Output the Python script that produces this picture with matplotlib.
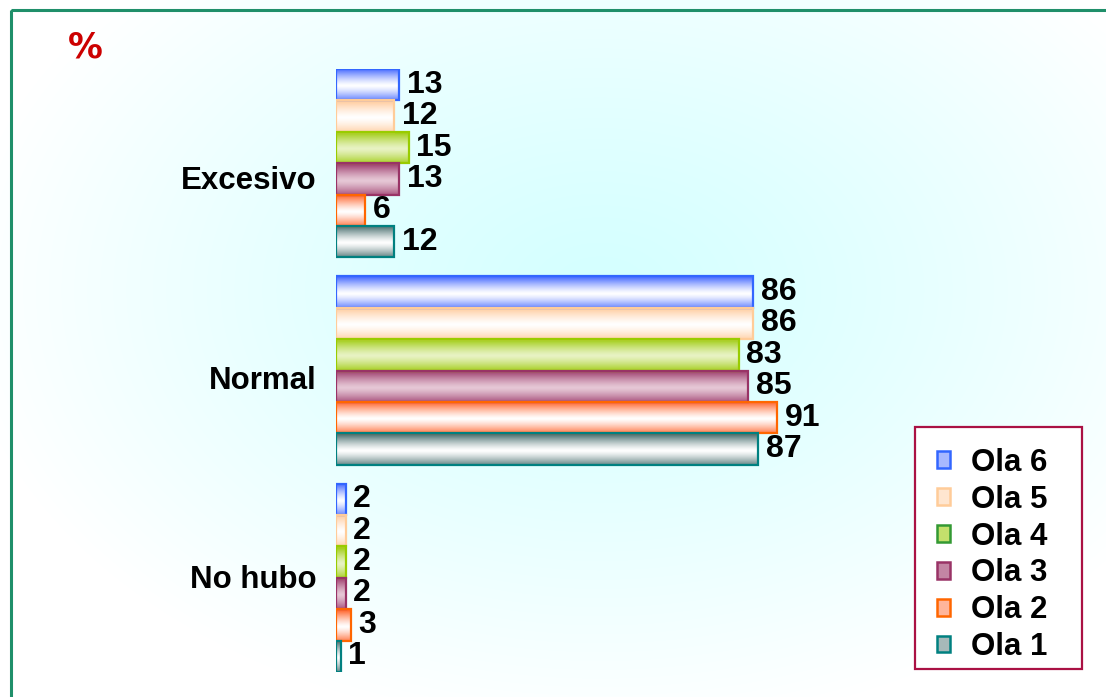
import matplotlib
matplotlib.use("Agg")
import matplotlib.pyplot as plt
import numpy as np
from matplotlib.colors import to_rgb
from matplotlib.patches import Patch, Rectangle

categories = ["Excesivo", "Normal", "No hubo"]
series = ["Ola 6", "Ola 5", "Ola 4", "Ola 3", "Ola 2", "Ola 1"]
values = {
    "Ola 6": [13, 86, 2],
    "Ola 5": [12, 86, 2],
    "Ola 4": [15, 83, 2],
    "Ola 3": [13, 85, 2],
    "Ola 2": [6, 91, 3],
    "Ola 1": [12, 87, 1],
}

# (edge, outer fill, middle fill) for the tube-shaded bars
styles = {
    "Ola 6": ("#3366FF", "#3f64ff", "#ffffff"),
    "Ola 5": ("#FFCC99", "#ffc896", "#ffffff"),
    "Ola 4": ("#99CC00", "#99c800", "#e8f3c4"),
    "Ola 3": ("#993366", "#993366", "#e6c8d6"),
    "Ola 2": ("#FF6600", "#ff5a1e", "#ffffff"),
    "Ola 1": ("#008080", "#3c6464", "#ffffff"),
}
legend_edge = {"Ola 4": "#339933"}

FONT = ["Liberation Sans", "DejaVu Sans"]
W, H = 1106, 697
fig = plt.figure(figsize=(W / 100, H / 100), dpi=100)

# soft cyan radial wash behind everything
bg = fig.add_axes([0, 0, 1, 1], zorder=-10)
yy, xx = np.mgrid[0:H, 0:W]
r = np.sqrt(((xx - 600) / 640.0) ** 2 + ((yy - 290) / 440.0) ** 2)
w = np.clip(r, 0, 1) ** 1.2
c0 = np.array(to_rgb("#d4ffff"))
img = c0[None, None, :] * (1 - w[..., None]) + 1.0 * w[..., None]
bg.imshow(img, extent=[0, W, H, 0], aspect="auto")
bg.set_xlim(0, W); bg.set_ylim(H, 0); bg.axis("off")
bg.add_patch(Rectangle((11, 10), W + 20, H + 20, fill=False, ec="#1f8f6a", lw=2.2))
bg.text(85, 47, "%", color="#CC0000", fontsize=25, fontweight="bold",
        family="DejaVu Sans", ha="center", va="center")
# legend box
bg.add_patch(Rectangle((915, 427), 167, 242, fc="white", ec="#AA1144", lw=1.6))

# plotting axes: x zero at px 336, 4.85 px per unit; bars span px 69..672
bar_h = 1.0
stride = 6.6
ax = fig.add_axes([336 / W, 1 - 672 / H, 485 / W, 603 / H])
ax.patch.set_alpha(0)
for s in ax.spines.values():
    s.set_visible(False)
ax.set_xticks([])

t = np.linspace(0, 1, 64)
prof = (np.abs(t - 0.55) / 0.55) ** 1.3

for si, name in enumerate(series):
    edge, outer, mid = styles[name]
    o, m = np.array(to_rgb(outer)), np.array(to_rgb(mid))
    grad = (m[None, :] + (o - m)[None, :] * prof[:, None])[:, None, :]
    ys = [g * stride + si + bar_h / 2 for g in range(len(categories))]
    bars = ax.barh(ys, values[name], height=bar_h, facecolor="none",
                   edgecolor=edge, linewidth=1.6, zorder=3)
    for b, v in zip(bars, values[name]):
        x0, y0 = b.get_x(), b.get_y()
        im = ax.imshow(grad, extent=[x0, x0 + b.get_width(), y0 + bar_h, y0],
                       aspect="auto", zorder=2, interpolation="bilinear")
        im.set_clip_path(b)
        ax.annotate(str(v), (x0 + b.get_width(), y0 + bar_h / 2),
                    xytext=(5.5, 0), textcoords="offset points",
                    ha="left", va="center", fontsize=23, fontweight="bold",
                    family=FONT, color="black")
ax.set_xlim(0, 100)
ax.set_ylim(3 * 6 + 2 * 0.6, 0)

label_shift = [0.45, 0.22, -0.03]
ax.set_yticks([g * stride + 3 + label_shift[g] for g in range(len(categories))])
ax.set_yticklabels(categories, fontsize=22.5, fontweight="bold", family=FONT)
ax.tick_params(axis="y", length=0, pad=14)

handles = []
for name in series:
    edge, outer, mid = styles[name]
    fc = tuple(0.55 * np.array(to_rgb(mid)) + 0.45 * np.array(to_rgb(outer)))
    handles.append(Patch(facecolor=fc, edgecolor=legend_edge.get(name, edge), lw=1.8))
leg = fig.legend(handles, series, loc="center left",
                 bbox_to_anchor=(937 / W, 1 - 555 / H), frameon=False,
                 handlelength=0.42, handleheight=0.45,
                 handletextpad=0.67, labelspacing=0.22, borderpad=0,
                 borderaxespad=0, prop={"family": FONT, "weight": "bold", "size": 22.5})

fig.savefig("out.png", dpi=100, facecolor="white")
